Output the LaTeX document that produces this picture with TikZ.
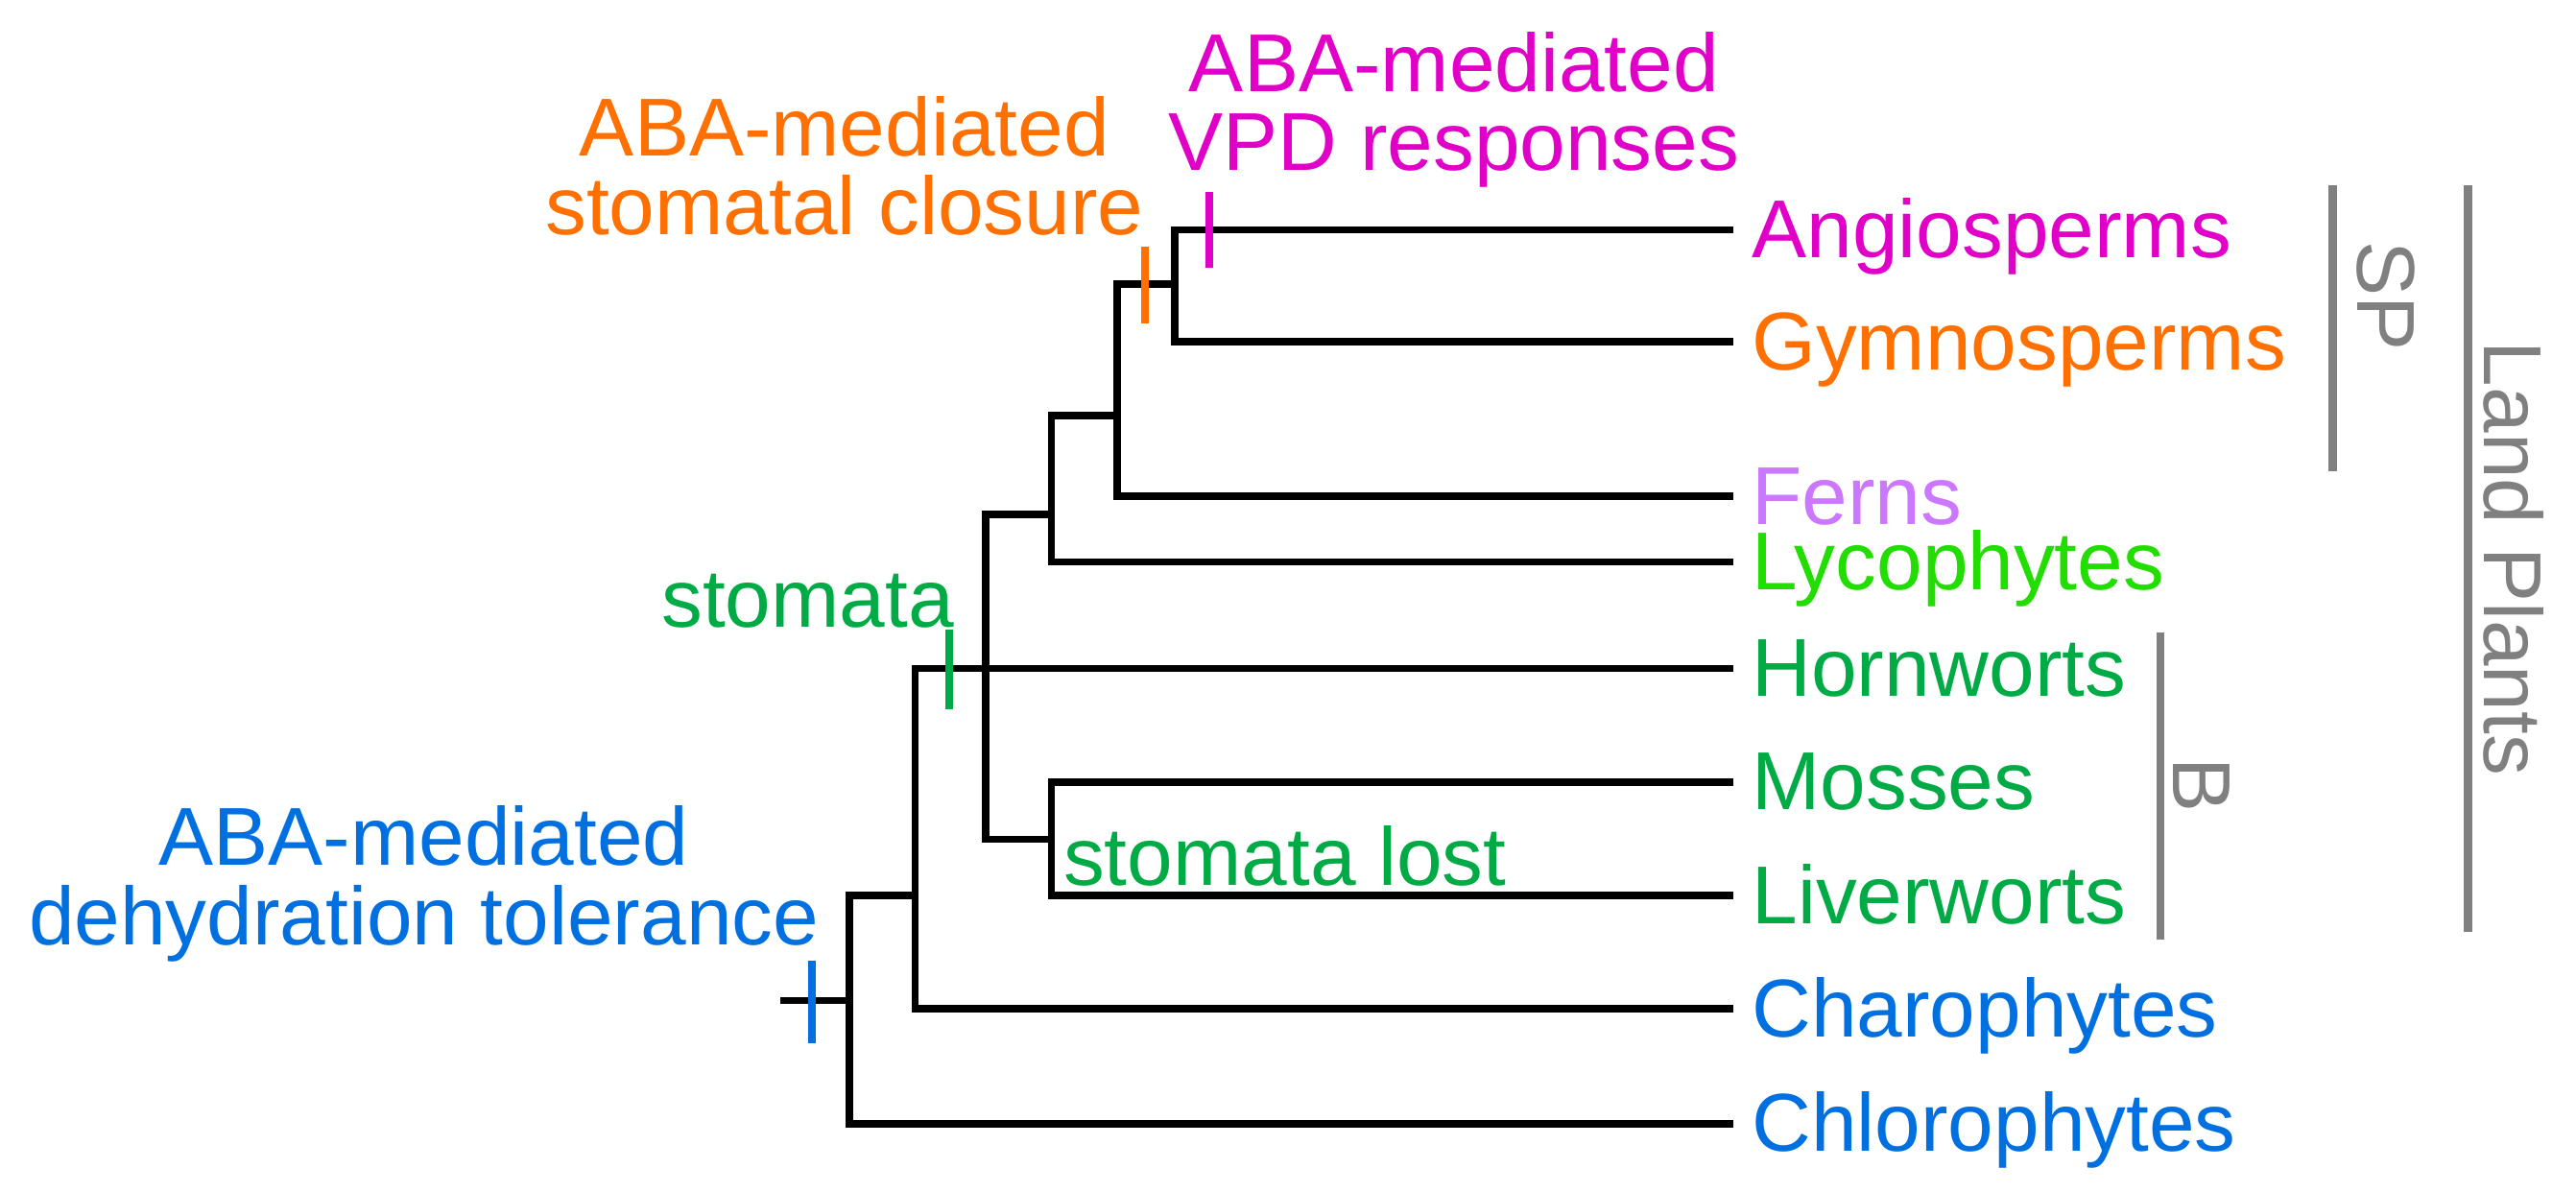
\documentclass[tikz,border=0pt]{standalone}
\usepackage{fontspec}
\setmainfont{Liberation Sans}
\definecolor{cmag}{HTML}{E000C8}
\definecolor{corg}{HTML}{FF7000}
\definecolor{clav}{HTML}{CC77FF}
\definecolor{clime}{HTML}{22DD00}
\definecolor{cgrn}{HTML}{00AA44}
\definecolor{cblu}{HTML}{0070E0}
\definecolor{cgry}{HTML}{808080}
\begin{document}
\begin{tikzpicture}[x=0.5pt,y=-0.5pt,
  br/.style={line width=2.2pt,black},
  tk/.style={line width=2.3pt},
  bar/.style={line width=2.6pt,cgry},
  tip/.style={anchor=base west,font=\fontsize{25}{24}\selectfont,inner sep=0pt},
  lab/.style={align=center,font=\fontsize{25}{24}\selectfont,inner sep=0pt}]
\useasboundingbox (0,0) rectangle (1568,725);
% tips
\foreach \n/\y/\c/\t in {angio/140/cmag/Angiosperms,gymno/208/corg/Gymnosperms,fern/302/clav/Ferns,lyco/342/clime/Lycophytes,horn/407/cgrn/Hornworts,moss/476/cgrn/Mosses,liver/545/cgrn/Liverworts,charo/614/cblu/Charophytes,chloro/684/cblu/Chlorophytes}
  {\coordinate (\n) at (1055,\y); \node[tip,text=\c] (t\n) at (1066,\y+17) {\t};}
% branches
\draw[br] (angio) -| (715,208) -- (gymno);
\draw[br] (715,173) -| (680,302) -- (fern);
\draw[br] (680,253) -| (640,342) -- (lyco);
\draw[br] (640,313) -| (600,511) -- (640,511);
\draw[br] (moss) -| (640,545) -- (liver);
\draw[br] (horn) -| (557,614) -- (charo);
\draw[br] (557,545) -| (517,684) -- (chloro);
\draw[br] (475,609) -- (517,609);
% ticks
\draw[tk,cblu] (494,585) -- (494,635);
\draw[tk,cgrn] (578,383) -- (578,432);
\draw[tk,corg] (697,150) -- (697,197);
\draw[tk,cmag] (736,117) -- (736,163);
% labels
\node[lab,text=cblu] (l1) at (258,538) {ABA-mediated\\dehydration tolerance};
\node[lab,text=cgrn,anchor=east] (l2) at (581,366) {stomata};
\node[lab,text=cgrn,anchor=west] (l3) at (647,521) {stomata lost};
\node[lab,text=corg] (l4) at (514,101) {ABA-mediated\\stomatal closure};
\node[lab,text=cmag] (l5) at (885,67) {ABA-mediated\\VPD responses};
% bars
\draw[bar] (1420,113) -- (1420,287);
\node[lab,text=cgry,rotate=-90] (sp) at (1452,180) {SP};
\draw[bar] (1315,385) -- (1315,572);
\node[lab,text=cgry,rotate=-90] (b) at (1340,478) {B};
\draw[bar] (1502,113) -- (1502,567);
\node[lab,text=cgry,rotate=-90] (lp) at (1530,340) {Land Plants};
\end{tikzpicture}
\end{document}
